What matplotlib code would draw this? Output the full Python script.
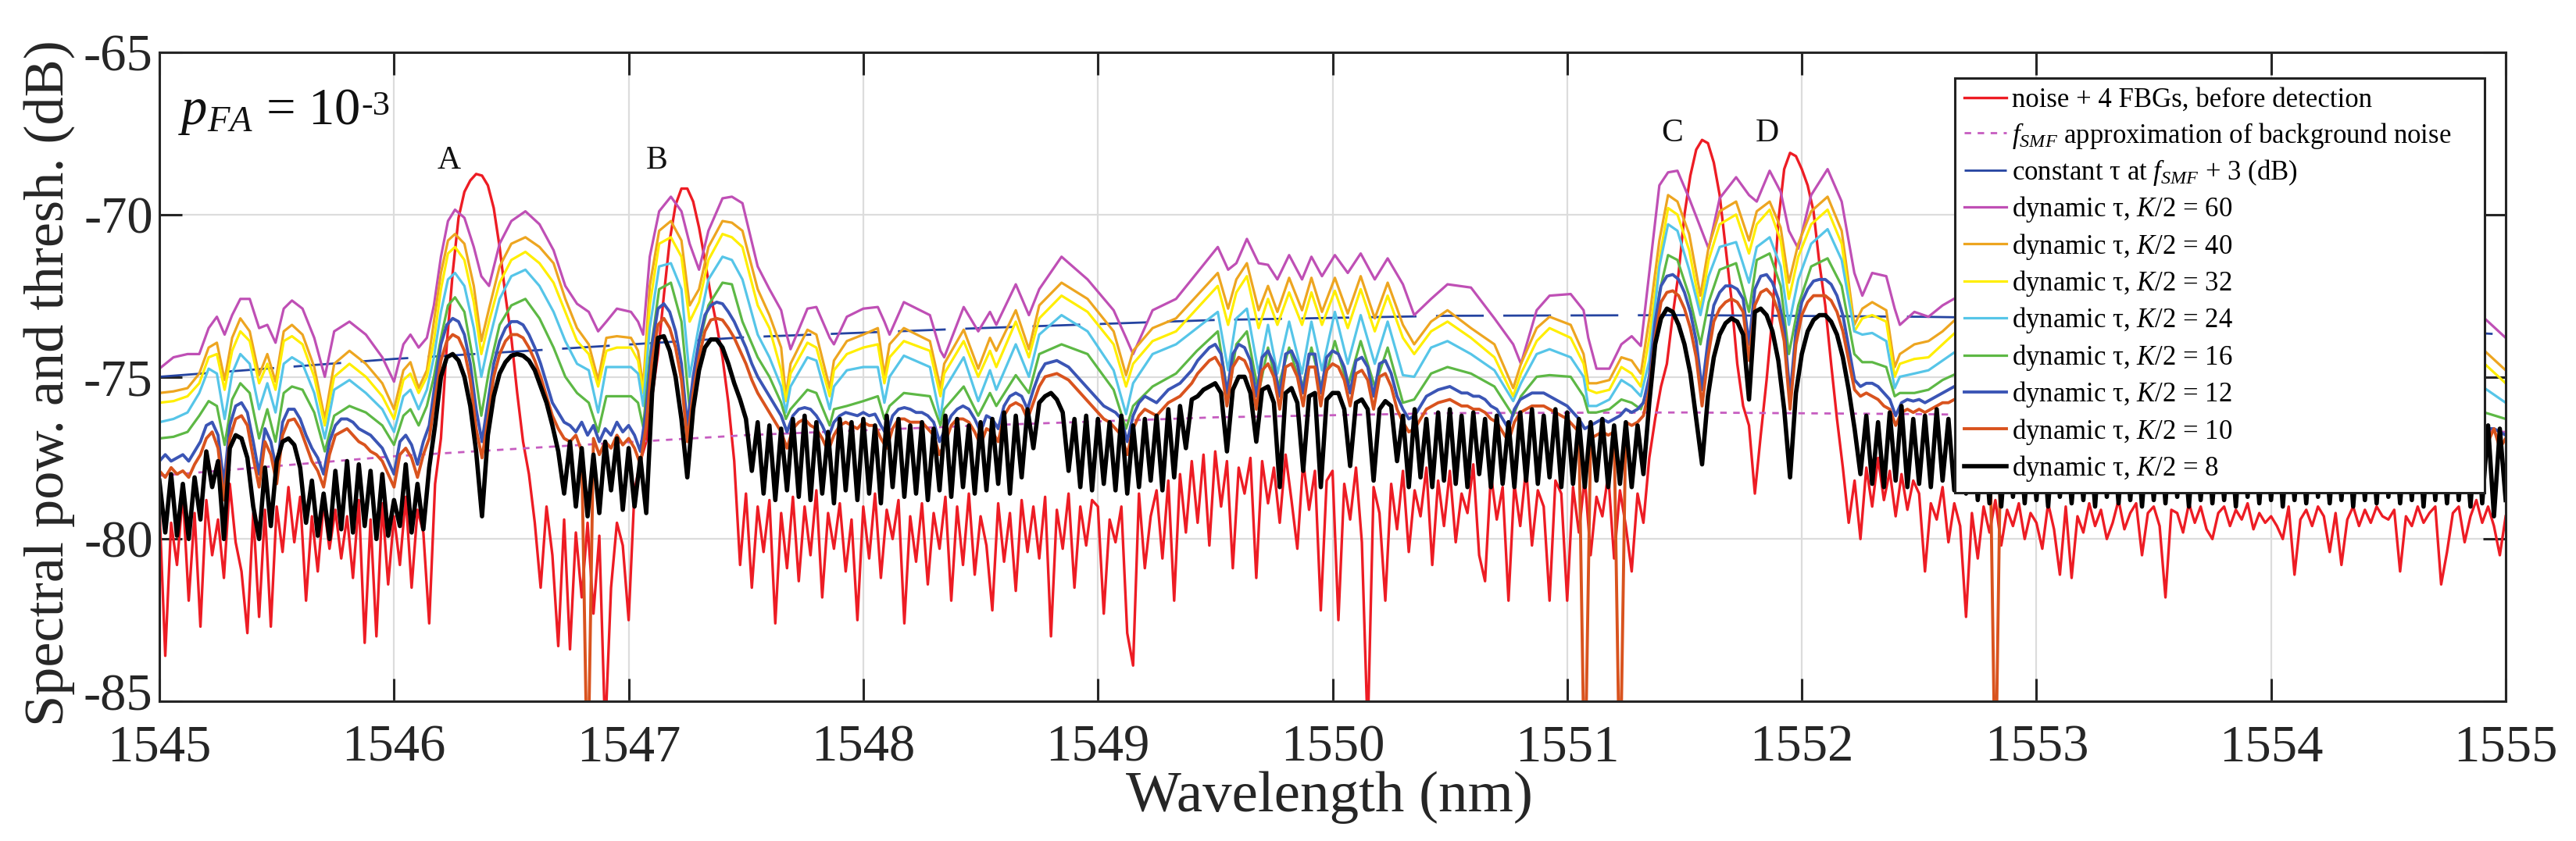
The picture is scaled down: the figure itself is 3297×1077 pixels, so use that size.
import numpy as np
import matplotlib
matplotlib.use("Agg")
import matplotlib.pyplot as plt
import matplotlib.transforms as mtransforms

plt.rcParams['font.family'] = ['Liberation Serif', 'DejaVu Serif']
plt.rcParams['mathtext.fontset'] = 'custom'
plt.rcParams['mathtext.rm'] = 'Liberation Serif'
plt.rcParams['mathtext.it'] = 'Liberation Serif:italic'
plt.rcParams['mathtext.bf'] = 'Liberation Serif:bold'
plt.rcParams['axes.unicode_minus'] = False

# ---------------- data ----------------
WL_START = 1545.0
WL_STEP = 0.025   # sampling of the dense (noisy) traces

noise_fbg = [
 -79.0, -83.6, -79.5, -80.8, -78.6, -81.9, -79.2, -82.7, -78.8, -80.5,
 -79.4, -81.2, -78.3, -80.1, -81.0, -82.9, -79.2, -82.4, -79.1, -82.7,
 -79.0, -80.4, -78.4, -80.1, -78.7, -81.9, -79.3, -81.0, -78.9, -80.3,
 -79.1, -80.6, -79.3, -81.2, -78.8, -83.2, -79.4, -83.0, -78.9, -81.4,
 -79.3, -80.8, -78.7, -81.5, -79.1, -79.8, -82.6, -78.3, -76.9, -74.0,
 -71.8, -70.1, -69.3, -68.95, -68.75, -68.8, -69.1, -69.8, -71.0, -72.5,
 -73.8, -75.5, -77.0, -78.0, -79.5, -81.5, -79.0, -80.5, -83.3, -79.4,
 -83.4, -79.8, -81.8, -79.5, -82.3, -79.9, -86.0, -81.5, -79.5, -80.2,
 -82.5, -78.5, -77.6, -77.0, -75.6, -74.3, -72.5, -70.8, -69.7, -69.2,
 -69.2, -69.6, -70.4, -71.4, -72.5, -73.4, -74.4, -75.8, -77.6, -80.8,
 -78.6, -81.5, -79.0, -80.4, -78.8, -82.6, -79.2, -80.9, -78.7, -81.3,
 -79.0, -80.5, -78.5, -81.8, -79.2, -80.3, -78.9, -81.0, -79.4, -82.5,
 -79.0, -80.6, -78.6, -81.2, -79.1, -80.0, -78.8, -82.6, -79.3, -80.7,
 -78.9, -81.4, -79.2, -80.3, -78.7, -81.9, -79.0, -80.8, -78.6, -81.1,
 -79.3, -80.2, -82.2, -78.9, -80.7, -79.2, -81.6, -78.8, -80.4, -79.0,
 -80.6, -78.7, -83.0, -79.1, -80.3, -78.6, -81.5, -79.0, -80.2, -78.8,
 -79.0, -82.3, -79.4, -80.1, -79.0, -82.9, -83.9, -78.6, -80.9, -79.3,
 -78.5, -80.6, -78.2, -81.9, -78.0, -79.8, -77.6, -79.5, -77.4, -80.2,
 -77.3, -79.0, -77.6, -80.9, -77.8, -78.6, -77.5, -81.2, -77.6, -78.9,
 -77.8, -79.5, -77.4, -78.8, -80.3, -77.6, -79.1, -77.9, -82.2, -78.2,
 -77.9, -82.5, -78.3, -79.4, -77.8, -80.1, -86.0, -78.4, -79.2, -81.9,
 -78.3, -79.7, -77.9, -80.4, -78.5, -79.3, -77.8, -80.8, -78.2, -79.6,
 -77.9, -80.1, -78.6, -79.2, -77.7, -80.5, -81.3, -78.0, -79.4, -78.4,
 -81.9, -78.3, -79.6, -77.8, -80.2, -78.5, -79.0, -81.9, -78.2, -78.6,
 -81.9, -78.4, -79.8, -78.1, -80.5, -78.7, -79.3, -78.0, -80.6, -78.5,
 -79.6, -81.0, -78.6, -79.5, -77.5, -76.3, -75.3, -74.6, -73.1, -71.8,
 -70.0, -68.8, -68.0, -67.7, -67.8, -68.4, -69.4, -71.0, -72.6, -74.6,
 -75.9, -76.5, -78.6, -76.8, -75.1, -73.1, -70.2, -68.6, -68.1, -68.2,
 -68.6, -69.1, -69.9, -71.5, -72.8, -74.6, -76.3, -77.8, -79.5, -78.2,
 -80.0, -77.8, -79.0, -77.5, -78.8, -77.9, -79.3, -78.0, -79.1, -78.2,
 -78.6, -81.0, -78.9, -79.4, -78.4, -80.1, -78.9, -79.6, -82.4, -79.2,
 -80.6, -79.0, -79.8, -78.8, -80.2, -79.1, -79.6, -78.9, -80.0, -79.2,
 -79.5, -80.3, -78.9, -79.7, -81.1, -79.0, -81.2, -79.3, -79.8, -78.9,
 -79.6, -79.1, -80.0, -79.5, -78.8, -79.7, -79.2, -78.9, -80.5, -79.2,
 -79.0, -79.6, -81.8, -79.1, -79.2, -79.8, -78.9, -79.5, -79.0, -79.7,
 -80.0, -79.2, -79.0, -79.6, -79.1, -79.4, -78.9, -79.7, -79.2, -79.5,
 -79.3, -79.6, -80.0, -79.0, -81.1, -79.4, -79.1, -79.6, -79.0, -79.3,
 -80.4, -79.2, -80.8, -79.4, -79.0, -79.6, -79.1, -79.5, -79.0, -79.3,
 -79.4, -79.1, -81.0, -79.3, -79.6, -79.0, -79.5, -79.2, -79.0, -81.4,
 -80.4, -79.2, -79.0, -80.1, -79.3, -78.8, -79.5, -79.0, -79.6, -80.5,
 -79.3]

thr_k8 = [
 -78.2, -79.8, -78.0, -79.9, -78.3, -80.0, -78.1, -79.4, -77.3, -78.4,
 -77.6, -80.0, -77.2, -76.8, -76.9, -77.5, -79.0, -80.0, -77.8, -79.6,
 -77.6, -77.0, -76.9, -77.1, -77.8, -79.5, -78.2, -79.9, -78.6, -80.0,
 -77.9, -79.7, -77.6, -79.8, -77.7, -79.6, -77.9, -80.0, -78.0, -79.9,
 -78.8, -79.6, -77.7, -79.8, -78.3, -79.7, -77.8, -76.5, -75.0, -74.4,
 -74.3, -74.5, -75.0, -75.9, -77.3, -79.3, -76.8, -75.6, -74.9, -74.55,
 -74.35, -74.3, -74.35, -74.5, -74.8, -75.3, -75.8, -76.5, -77.3, -78.6,
 -77.0, -79.0, -77.2, -79.3, -77.4, -79.2, -77.0, -78.5, -76.9, -79.1,
 -77.2, -79.0, -77.5, -79.2, -75.5, -73.8, -73.75, -74.2, -75.0, -76.3,
 -78.1, -76.0, -74.8, -74.1, -73.85, -73.85, -74.1, -74.6, -75.2, -75.7,
 -76.3, -77.9, -76.4, -78.6, -76.5, -78.8, -76.6, -78.5, -76.3, -78.7,
 -76.2, -78.8, -76.4, -78.6, -76.7, -78.9, -76.3, -78.5, -76.4, -78.8,
 -76.3, -78.6, -76.5, -78.9, -76.2, -78.4, -76.3, -78.7, -76.5, -78.6,
 -76.4, -78.8, -76.6, -78.5, -76.2, -78.7, -76.3, -78.4, -76.5, -78.6,
 -76.4, -78.5, -76.3, -78.3, -76.1, -78.6, -76.2, -78.1, -76.0, -77.2,
 -75.8, -75.6, -75.5, -75.7, -76.1, -77.9, -76.3, -78.4, -76.2, -78.5,
 -76.3, -78.3, -76.4, -78.5, -76.2, -78.6, -76.5, -78.4, -76.3, -78.2,
 -76.2, -78.5, -76.0, -78.1, -75.9, -77.2, -75.7, -75.6, -75.4, -75.3,
 -75.2, -75.5, -77.3, -75.4, -75.0, -75.0, -75.5, -77.0, -75.4, -75.3,
 -75.8, -78.4, -75.5, -75.35, -75.8, -77.9, -75.6, -75.5, -78.4, -75.7,
 -75.5, -75.5, -76.0, -77.75, -75.8, -75.7, -76.0, -78.2, -76.0, -75.75,
 -75.9, -77.6, -76.2, -78.4, -76.0, -78.1, -76.3, -78.4, -76.1, -78.2,
 -76.0, -78.3, -76.2, -78.4, -76.1, -78.0, -76.3, -78.4, -76.2, -78.3,
 -76.4, -78.4, -76.1, -78.2, -76.0, -78.3, -76.2, -78.1, -76.0, -78.4,
 -76.1, -78.3, -76.3, -78.4, -76.4, -78.2, -76.3, -78.4, -76.5, -78.3,
 -76.4, -78.4, -76.5, -78.0, -75.8, -74.0, -73.2, -72.9, -73.0, -73.4,
 -74.0, -74.9, -76.3, -77.7, -75.6, -74.4, -73.7, -73.35, -73.2, -73.3,
 -73.7, -75.7, -73.0, -72.9, -73.1, -73.6, -74.5, -76.0, -78.1, -75.5,
 -74.3, -73.6, -73.25, -73.1, -73.1, -73.3, -73.7, -74.4, -75.4, -76.6,
 -78.0, -76.2, -78.3, -76.4, -78.4, -76.1, -78.2, -75.9, -78.4, -76.3,
 -78.3, -76.2, -78.4, -76.0, -78.2, -76.3, -78.5, -76.4, -78.6, -76.3,
 -78.8, -76.6, -78.9, -76.5, -79.0, -76.7, -78.7, -76.6, -78.9, -76.5,
 -78.8, -76.7, -79.0, -76.5, -78.7, -76.6, -78.9, -76.8, -78.8, -76.6,
 -79.0, -76.5, -78.7, -76.7, -78.9, -76.6, -78.8, -76.5, -79.0, -76.7,
 -78.8, -76.6, -78.9, -76.5, -78.7, -76.8, -79.0, -76.6, -78.8, -76.5,
 -78.9, -76.7, -78.8, -76.6, -79.0, -76.5, -78.7, -76.7, -78.9, -76.6,
 -78.8, -76.5, -79.0, -76.7, -78.8, -76.6, -78.9, -76.5, -78.7, -76.7,
 -78.9, -76.6, -78.8, -76.5, -79.0, -76.7, -78.8, -76.6, -78.9, -76.5,
 -78.7, -76.6, -78.9, -76.7, -78.8, -76.5, -79.0, -76.6, -78.8, -76.7,
 -78.9, -76.5, -78.8, -76.6, -79.0, -76.4, -78.9, -76.5, -79.3, -76.6,
 -78.8]

thr_k10 = [
 -77.9, -78.1, -77.8, -78.0, -77.9, -78.1, -77.7, -77.4, -76.9, -76.7,
 -77.2, -78.8, -76.9, -76.3, -76.2, -76.5, -77.5, -78.4, -77.0, -77.4,
 -78.3, -76.8, -76.35, -76.3, -76.6, -77.1, -77.6, -77.9, -78.4, -77.4,
 -76.8, -76.7, -76.6, -76.8, -77.0, -77.1, -77.3, -77.4, -77.6, -78.0,
 -78.4, -77.4, -77.2, -77.5, -78.1, -77.4, -76.9, -75.7, -74.5, -73.9,
 -73.7, -73.8, -74.2, -75.1, -76.6, -77.5, -76.3, -75.0, -74.3, -73.9,
 -73.7, -73.7, -73.8, -74.1, -74.5, -75.0, -75.6, -76.2, -76.6, -76.9,
 -77.0, -76.8, -77.3, -88.0, -76.9, -77.4, -77.0, -77.2, -76.8, -77.1,
 -76.9, -77.2, -77.7, -76.5, -74.5, -73.4, -73.2, -73.5, -74.1, -75.1,
 -77.0, -75.5, -74.4, -73.6, -73.25, -73.2, -73.25, -73.5, -73.8, -74.2,
 -74.6, -75.1, -75.5, -75.8, -76.1, -76.4, -76.7, -77.2, -76.6, -76.4,
 -76.3, -76.5, -76.6, -76.9, -77.3, -76.8, -76.5, -76.4, -76.5, -76.6,
 -76.4, -76.5, -76.5, -76.9, -77.2, -76.6, -76.3, -76.3, -76.4, -76.4,
 -76.4, -76.6, -76.8, -77.4, -77.0, -76.5, -76.3, -76.3, -76.4, -76.7,
 -77.1, -76.6, -76.7, -77.0, -76.2, -75.9, -75.8, -75.9, -76.3, -75.8,
 -75.3, -75.0, -74.95, -74.9, -75.0, -75.1, -75.3, -75.5, -75.7, -75.9,
 -76.1, -76.3, -76.4, -76.6, -76.8, -77.4, -76.6, -76.2, -76.0, -76.1,
 -76.2, -76.0, -75.8, -75.7, -75.6, -75.4, -75.2, -74.9, -74.7, -74.5,
 -74.4, -74.7, -75.9, -74.7, -74.4, -74.5, -74.9, -76.0, -74.8, -74.6,
 -75.0, -76.0, -74.7, -74.6, -75.0, -75.9, -74.7, -74.7, -75.9, -74.8,
 -74.6, -74.7, -75.1, -75.9, -74.9, -74.8, -75.1, -76.0, -75.0, -74.9,
 -75.3, -76.0, -76.4, -76.7, -76.6, -76.3, -76.0, -75.9, -75.8, -75.75,
 -75.7, -75.8, -75.9, -75.9, -76.0, -76.0, -76.1, -76.3, -76.4, -76.7,
 -77.0, -76.4, -76.1, -76.0, -75.9, -75.9, -75.9, -76.0, -76.1, -76.2,
 -76.3, -76.5, -76.7, -88.0, -76.9, -76.8, -76.7, -76.8, -76.7, -88.0,
 -76.4, -76.5, -76.4, -76.2, -75.4, -73.8, -72.7, -72.4, -72.35, -72.5,
 -72.9, -73.5, -74.4, -75.9, -74.4, -73.3, -72.9, -72.7, -72.6, -72.7,
 -73.0, -74.5, -72.8, -72.4, -72.3, -72.5, -73.0, -73.9, -76.0, -74.0,
 -73.1, -72.7, -72.5, -72.5, -72.5, -72.65, -73.0, -73.6, -74.5, -75.4,
 -75.6, -75.5, -75.6, -75.7, -75.9, -76.0, -76.5, -76.1, -76.0, -76.1,
 -76.0, -76.1, -76.0, -75.9, -75.8, -75.8, -75.7, -75.7, -75.7, -75.8,
 -75.8, -75.9, -75.8, -88.0, -75.9, -75.8, -75.9, -75.8, -75.9, -75.8,
 -75.9, -75.8, -76.0, -75.9, -75.8, -75.9, -76.0, -75.8, -75.9, -75.9,
 -75.9, -75.8, -76.0, -75.9, -75.8, -75.9, -76.0, -75.8, -75.9, -75.9,
 -75.9, -75.8, -76.0, -75.9, -75.8, -75.9, -76.0, -75.8, -75.9, -75.9,
 -75.9, -75.8, -76.0, -75.9, -75.8, -75.9, -76.0, -75.8, -75.9, -75.9,
 -75.9, -75.8, -76.0, -75.9, -75.8, -75.9, -76.0, -75.8, -75.9, -75.9,
 -75.9, -75.8, -76.0, -75.9, -75.8, -75.9, -76.0, -75.8, -75.9, -75.9,
 -75.9, -75.8, -76.0, -75.9, -75.8, -75.9, -76.0, -75.8, -75.9, -76.0,
 -76.2, -76.4, -76.3, -76.6, -76.4, -76.8, -76.5, -77.0, -76.6, -77.2,
 -76.9]

thr_k12 = [
 -77.6, -77.4, -77.6, -77.5, -77.4, -77.6, -77.3, -77.0, -76.5, -76.4,
 -76.8, -78.3, -76.5, -75.9, -75.8, -76.1, -77.0, -78.0, -76.6, -77.0,
 -77.9, -76.4, -76.0, -76.0, -76.3, -76.8, -77.2, -77.5, -78.0, -77.0,
 -76.5, -76.3, -76.3, -76.4, -76.6, -76.7, -76.8, -77.0, -77.2, -77.6,
 -78.0, -77.0, -76.8, -77.1, -77.7, -77.0, -76.5, -75.2, -74.0, -73.4,
 -73.2, -73.3, -73.7, -74.6, -76.0, -77.0, -75.8, -74.6, -73.9, -73.5,
 -73.3, -73.3, -73.4, -73.7, -74.1, -74.6, -75.2, -75.8, -76.1, -76.4,
 -76.5, -76.7, -76.4, -76.8, -76.5, -77.0, -76.6, -76.8, -76.4, -76.7,
 -76.5, -76.8, -77.3, -76.0, -74.0, -72.9, -72.75, -73.0, -73.6, -74.6,
 -76.5, -75.0, -73.9, -73.1, -72.8, -72.7, -72.75, -73.0, -73.3, -73.7,
 -74.1, -74.6, -75.0, -75.3, -75.6, -75.9, -76.2, -76.7, -76.2, -76.0,
 -75.95, -76.0, -76.2, -76.5, -76.9, -76.4, -76.2, -76.1, -76.15, -76.2,
 -76.1, -76.2, -76.15, -76.5, -76.8, -76.2, -76.0, -75.95, -76.0, -76.1,
 -76.1, -76.2, -76.4, -77.0, -76.6, -76.2, -76.0, -75.9, -76.0, -76.3,
 -76.7, -76.2, -76.3, -76.6, -75.9, -75.6, -75.5, -75.6, -76.0, -75.4,
 -74.9, -74.6, -74.55, -74.5, -74.6, -74.7, -74.9, -75.1, -75.3, -75.5,
 -75.7, -75.9, -76.0, -76.1, -76.3, -77.0, -76.2, -75.8, -75.6, -75.7,
 -75.8, -75.6, -75.4, -75.3, -75.2, -75.0, -74.8, -74.5, -74.3, -74.1,
 -74.0, -74.3, -75.5, -74.3, -74.0, -74.1, -74.5, -75.6, -74.4, -74.2,
 -74.6, -75.6, -74.3, -74.2, -74.6, -75.5, -74.3, -74.3, -75.5, -74.4,
 -74.2, -74.3, -74.7, -75.5, -74.5, -74.4, -74.7, -75.6, -74.6, -74.5,
 -74.9, -75.6, -76.0, -76.3, -76.2, -75.9, -75.6, -75.5, -75.4, -75.35,
 -75.3, -75.4, -75.5, -75.5, -75.6, -75.6, -75.7, -75.9, -76.0, -76.3,
 -76.6, -76.0, -75.7, -75.6, -75.5, -75.5, -75.5, -75.6, -75.7, -75.8,
 -75.9, -76.1, -76.3, -76.6, -76.5, -76.4, -76.3, -76.4, -76.3, -76.2,
 -76.0, -76.1, -76.0, -75.8, -75.0, -73.3, -72.2, -71.9, -71.85, -72.0,
 -72.4, -73.0, -73.9, -75.4, -73.9, -72.8, -72.4, -72.2, -72.2, -72.3,
 -72.6, -74.0, -72.3, -71.9, -71.85, -72.1, -72.6, -73.5, -75.6, -73.6,
 -72.7, -72.3, -72.05, -72.0, -72.0, -72.15, -72.5, -73.1, -74.1, -75.1,
 -75.3, -75.2, -75.2, -75.3, -75.5, -75.7, -76.2, -75.8, -75.7, -75.75,
 -75.7, -75.8, -75.7, -75.6, -75.5, -75.4, -75.3, -75.3, -75.3, -75.4,
 -75.4, -75.5, -75.4, -75.6, -75.5, -75.4, -75.5, -75.6, -75.4, -75.5,
 -75.4, -75.5, -75.4, -75.6, -75.5, -75.4, -75.5, -75.6, -75.4, -75.5,
 -75.4, -75.5, -75.4, -75.6, -75.5, -75.4, -75.5, -75.6, -75.4, -75.5,
 -75.4, -75.5, -75.4, -75.6, -75.5, -75.4, -75.5, -75.6, -75.4, -75.5,
 -75.4, -75.5, -75.4, -75.6, -75.5, -75.4, -75.5, -75.6, -75.4, -75.5,
 -75.4, -75.5, -75.4, -75.6, -75.5, -75.4, -75.5, -75.6, -75.4, -75.5,
 -75.4, -75.5, -75.4, -75.6, -75.5, -75.4, -75.5, -75.6, -75.4, -75.5,
 -75.4, -75.5, -75.4, -75.6, -75.5, -75.4, -75.5, -75.6, -75.7, -75.8,
 -76.0, -76.1, -76.2, -76.2, -76.3, -76.4, -76.5, -76.6, -76.6, -76.7,
 -76.8]

# key wavelengths (peaks / nulls) for the smoother thresholds
wl_key = [
 1545.000, 1545.060, 1545.120, 1545.170, 1545.210, 1545.245, 1545.278, 1545.310, 1545.345, 1545.385,
 1545.425, 1545.460, 1545.495, 1545.530, 1545.565, 1545.610, 1545.660, 1545.705, 1545.745, 1545.810,
 1545.880, 1545.950, 1546.000, 1546.040, 1546.070, 1546.105, 1546.140, 1546.170, 1546.200, 1546.230,
 1546.260, 1546.300, 1546.340, 1546.372, 1546.405, 1546.450, 1546.500, 1546.560, 1546.620, 1546.680,
 1546.730, 1546.780, 1546.830, 1546.870, 1546.905, 1546.950, 1547.010, 1547.040, 1547.062, 1547.090,
 1547.130, 1547.180, 1547.225, 1547.260, 1547.300, 1547.340, 1547.400, 1547.440, 1547.485, 1547.550,
 1547.600, 1547.650, 1547.670, 1547.690, 1547.762, 1547.800, 1547.857, 1547.875, 1547.930, 1548.000,
 1548.062, 1548.090, 1548.112, 1548.173, 1548.284, 1548.329, 1548.345, 1548.428, 1548.490, 1548.540,
 1548.567, 1548.650, 1548.706, 1548.750, 1548.845, 1548.956, 1549.067, 1549.120, 1549.150, 1549.233,
 1549.333, 1549.422, 1549.511, 1549.555, 1549.590, 1549.635, 1549.685, 1549.725, 1549.765, 1549.815,
 1549.870, 1549.910, 1549.955, 1550.010, 1550.065, 1550.120, 1550.180, 1550.235, 1550.300, 1550.348,
 1550.420, 1550.490, 1550.590, 1550.690, 1550.770, 1550.803, 1550.870, 1550.925, 1551.015, 1551.070,
 1551.090, 1551.125, 1551.180, 1551.231, 1551.275, 1551.314, 1551.350, 1551.393, 1551.430, 1551.470,
 1551.520, 1551.568, 1551.603, 1551.650, 1551.720, 1551.775, 1551.808, 1551.863, 1551.910, 1551.945,
 1551.985, 1552.040, 1552.110, 1552.170, 1552.224, 1552.258, 1552.300, 1552.360, 1552.396, 1552.418,
 1552.480, 1552.540, 1552.600, 1552.660, 1553.200, 1553.800, 1554.400, 1554.910, 1555.000]

thr_k60 = [
 -74.75, -74.4, -74.3, -74.3, -73.5, -73.15, -73.7, -73.1, -72.6, -72.6,
 -73.5, -73.4, -73.95, -72.9, -72.65, -72.9, -73.8, -75.0, -73.6, -73.3,
 -73.7, -74.4, -75.15, -74.0, -73.7, -74.1, -73.8, -72.8, -71.3, -70.2,
 -69.85, -70.1, -71.0, -71.9, -72.2, -70.9, -70.2, -69.9, -70.3, -71.1,
 -72.2, -72.75, -73.0, -73.6, -73.3, -72.9, -73.0, -73.3, -73.7, -71.3,
 -69.9, -69.45, -69.9, -70.9, -71.7, -70.5, -69.5, -69.45, -69.65, -71.6,
 -72.3, -72.95, -73.6, -74.15, -72.9, -72.85, -73.8, -74.0, -73.15, -72.9,
 -72.85, -73.3, -73.7, -72.7, -73.1, -74.2, -74.4, -72.85, -73.6, -73.0,
 -73.4, -72.15, -73.1, -72.3, -71.3, -72.0, -72.95, -73.8, -74.3, -72.95,
 -72.6, -71.8, -71.0, -71.7, -71.5, -70.75, -71.5, -71.55, -72.0, -71.25,
 -72.0, -71.3, -71.9, -71.25, -71.8, -71.2, -72.0, -71.35, -72.15, -73.1,
 -72.6, -72.15, -72.25, -73.2, -74.0, -74.6, -72.95, -72.5, -72.45, -72.95,
 -73.8, -74.75, -74.75, -74.0, -73.75, -74.05, -71.8, -69.1, -68.7, -68.65,
 -69.5, -70.4, -71.05, -69.5, -68.85, -69.4, -69.6, -68.65, -69.3, -70.5,
 -71.05, -69.4, -68.6, -69.6, -71.8, -72.5, -71.8, -71.9, -72.9, -73.4,
 -73.0, -73.15, -72.8, -72.55, -72.5, -72.6, -72.8, -73.2, -73.8]

thr_k40 = [
 -75.5, -75.45, -75.35, -74.9, -74.1, -73.95, -75.1, -73.8, -73.2, -73.6,
 -74.95, -74.3, -75.15, -73.6, -73.4, -73.7, -74.7, -76.3, -74.6, -74.2,
 -74.6, -75.2, -76.0, -74.8, -74.55, -75.35, -74.8, -73.3, -71.8, -70.8,
 -70.6, -70.9, -72.2, -73.9, -72.9, -71.6, -70.9, -70.7, -71.0, -71.5,
 -72.6, -73.5, -74.0, -75.1, -73.8, -73.75, -73.8, -74.2, -75.3, -72.2,
 -70.5, -70.2, -70.8, -72.8, -72.3, -71.0, -70.2, -70.25, -70.5, -72.3,
 -73.1, -74.1, -75.6, -74.6, -73.55, -73.7, -75.35, -74.5, -73.9, -73.7,
 -73.5, -74.95, -74.0, -73.5, -73.9, -75.35, -74.6, -73.55, -74.75, -73.8,
 -74.2, -72.95, -74.15, -72.8, -72.1, -72.6, -73.6, -74.95, -74.2, -73.5,
 -73.2, -72.5, -71.8, -72.9, -72.0, -71.5, -72.95, -72.2, -73.0, -71.95,
 -72.95, -71.95, -73.0, -71.95, -73.05, -71.9, -73.2, -72.1, -73.4, -74.0,
 -73.3, -72.95, -73.5, -74.0, -75.35, -74.6, -73.5, -73.15, -73.4, -74.3,
 -75.2, -75.2, -75.1, -74.4, -74.5, -74.9, -73.2, -70.8, -69.4, -69.6,
 -70.6, -72.5, -71.0, -69.9, -69.6, -70.8, -69.9, -69.6, -70.4, -72.1,
 -70.9, -69.9, -69.45, -70.5, -73.4, -72.9, -72.7, -72.95, -74.7, -74.3,
 -74.0, -73.9, -73.6, -73.2, -73.3, -73.4, -73.6, -74.2, -74.8]

thr_k32 = [
 -75.8, -75.75, -75.6, -75.2, -74.4, -74.3, -75.4, -74.2, -73.6, -73.9,
 -75.2, -74.6, -75.4, -73.9, -73.75, -74.0, -75.0, -76.5, -75.0, -74.6,
 -75.0, -75.6, -76.3, -75.1, -74.9, -75.5, -75.0, -73.9, -72.3, -71.2,
 -71.0, -71.4, -72.7, -74.3, -73.3, -72.1, -71.4, -71.15, -71.5, -72.1,
 -73.0, -73.9, -74.3, -75.3, -74.2, -74.1, -74.1, -74.5, -75.5, -72.8,
 -70.9, -70.7, -71.3, -73.3, -72.7, -71.4, -70.6, -70.7, -71.0, -72.8,
 -73.5, -74.8, -75.75, -74.9, -73.95, -74.1, -75.6, -74.8, -74.3, -74.1,
 -74.0, -75.2, -74.4, -73.9, -74.2, -75.6, -74.9, -73.9, -75.0, -74.2,
 -74.7, -73.3, -74.4, -73.2, -72.5, -73.0, -74.0, -75.3, -74.6, -73.9,
 -73.6, -72.9, -72.2, -73.4, -72.4, -71.9, -73.5, -72.6, -73.4, -72.4,
 -73.4, -72.4, -73.4, -72.35, -73.5, -72.3, -73.6, -72.5, -73.8, -74.3,
 -73.6, -73.3, -73.8, -74.4, -75.6, -74.9, -73.9, -73.5, -73.8, -74.6,
 -75.4, -75.5, -75.4, -74.7, -74.9, -75.3, -73.8, -71.4, -69.8, -70.0,
 -71.1, -72.9, -71.4, -70.3, -70.0, -71.2, -70.3, -69.85, -70.8, -72.6,
 -71.3, -70.3, -69.85, -70.9, -73.6, -73.2, -73.1, -73.3, -75.0, -74.6,
 -74.45, -74.4, -74.0, -73.6, -73.6, -73.8, -74.0, -74.6, -75.2]

thr_k24 = [
 -76.4, -76.3, -76.1, -75.5, -74.75, -74.9, -76.3, -74.9, -74.3, -74.6,
 -76.0, -75.2, -76.1, -74.6, -74.4, -74.6, -75.5, -76.9, -75.4, -75.1,
 -75.5, -76.0, -76.7, -75.6, -75.4, -76.0, -75.4, -74.4, -73.0, -72.0,
 -71.8, -72.2, -73.5, -75.0, -73.9, -72.6, -71.9, -71.7, -72.2, -73.0,
 -73.9, -74.6, -74.8, -76.1, -74.7, -74.7, -74.7, -74.9, -75.9, -73.5,
 -71.6, -71.5, -72.3, -75.0, -73.4, -72.0, -71.3, -71.4, -72.0, -73.7,
 -74.4, -75.3, -76.1, -75.3, -74.4, -74.5, -76.0, -75.3, -74.8, -74.7,
 -74.7, -75.8, -75.0, -74.35, -74.7, -76.3, -75.4, -74.4, -75.75, -74.8,
 -75.4, -74.0, -75.0, -73.7, -73.1, -73.6, -74.8, -76.15, -75.2, -74.3,
 -74.0, -73.5, -73.0, -74.8, -73.2, -72.9, -74.9, -73.4, -74.9, -73.3,
 -74.9, -73.3, -74.8, -73.0, -74.6, -73.1, -74.6, -73.3, -74.95, -75.0,
 -74.1, -73.9, -74.3, -74.8, -75.75, -75.2, -74.3, -74.15, -74.4, -75.0,
 -75.9, -75.9, -75.7, -75.1, -75.3, -75.6, -74.5, -71.6, -70.3, -70.5,
 -71.7, -73.1, -71.9, -71.0, -70.85, -72.1, -71.0, -70.7, -71.6, -73.4,
 -72.0, -70.9, -70.45, -71.4, -73.6, -73.7, -73.65, -73.9, -75.35, -75.0,
 -74.9, -74.8, -74.5, -74.2, -74.0, -74.3, -74.6, -75.35, -75.8]

thr_k16 = [
 -76.9, -76.85, -76.7, -76.2, -75.75, -75.9, -77.1, -75.7, -75.2, -75.5,
 -76.9, -76.0, -77.0, -75.5, -75.3, -75.4, -76.1, -77.3, -76.2, -75.9,
 -76.1, -76.5, -77.1, -76.2, -76.0, -76.5, -75.9, -75.0, -73.8, -72.8,
 -72.55, -73.0, -74.6, -76.2, -74.8, -73.4, -72.8, -72.6, -73.2, -74.1,
 -75.0, -75.5, -75.8, -76.7, -75.6, -75.6, -75.6, -75.8, -76.55, -74.4,
 -72.3, -72.1, -73.3, -76.0, -74.0, -72.8, -72.1, -72.15, -73.3, -74.4,
 -75.0, -75.8, -76.3, -76.0, -75.4, -75.5, -76.5, -76.0, -75.9, -75.75,
 -75.6, -76.3, -75.9, -75.5, -75.6, -76.5, -76.0, -75.3, -76.2, -75.5,
 -75.9, -74.95, -75.5, -74.3, -74.0, -74.3, -75.4, -76.6, -75.9, -75.3,
 -74.9, -74.2, -73.6, -75.6, -74.0, -73.6, -75.5, -74.1, -75.4, -74.1,
 -75.4, -74.1, -75.4, -73.9, -75.3, -73.9, -75.3, -74.1, -75.8, -75.7,
 -74.9, -74.7, -74.9, -75.3, -76.2, -75.6, -75.0, -74.95, -75.0, -75.6,
 -76.1, -76.1, -76.0, -75.7, -75.8, -76.0, -75.2, -72.4, -71.25, -71.4,
 -72.5, -74.0, -72.7, -71.7, -71.5, -73.0, -71.4, -71.2, -72.2, -74.3,
 -72.8, -71.6, -71.35, -72.2, -74.3, -74.55, -74.55, -74.7, -75.6, -75.5,
 -75.5, -75.4, -75.1, -74.9, -74.8, -75.0, -75.4, -76.1, -76.3]

# background-noise approximation and constant threshold
wl_bg = [1545.0, 1546.0, 1546.66, 1547.5, 1548.5, 1549.5, 1550.5, 1551.5, 1552.5, 1553.5, 1554.5, 1555.0]
f_smf = [-78.05, -77.45, -77.16, -76.8, -76.5, -76.25, -76.12, -76.1, -76.15, -76.25, -76.5, -76.7]
tau_const = [-75.0, -74.45, -74.16, -73.78, -73.5, -73.25, -73.12, -73.1, -73.15, -73.25, -73.5, -73.7]

peak_names = ['A', 'B', 'C', 'D']
peak_name_wl = [1546.235, 1547.121, 1551.447, 1551.852]
peak_name_db = [-68.33, -68.33, -67.49, -67.49]

x_ticks = [1545, 1546, 1547, 1548, 1549, 1550, 1551, 1552, 1553, 1554, 1555]
y_ticks = [-85, -80, -75, -70, -65]

legend_labels = [
    'noise + 4 FBGs, before detection',
    r'$f_{SMF}$ approximation of background noise',
    r'constant τ at $f_{SMF}$ + 3 (dB)',
    r'dynamic τ, $K/2$ = 60',
    r'dynamic τ, $K/2$ = 40',
    r'dynamic τ, $K/2$ = 32',
    r'dynamic τ, $K/2$ = 24',
    r'dynamic τ, $K/2$ = 16',
    r'dynamic τ, $K/2$ = 12',
    r'dynamic τ, $K/2$ = 10',
    r'dynamic τ, $K/2$ = 8',
]

# ---------------- figure ----------------
fig = plt.figure(figsize=(32.98, 10.77), dpi=100)
ax = fig.add_axes([204/3298, 1 - 898/1077, 3003/3298, 831/1077])

def dense_x(vals):
    return WL_START + WL_STEP * np.arange(len(vals))

handles = []
h, = ax.plot(dense_x(noise_fbg), noise_fbg, color='#ED1C24', lw=2.4, zorder=2)
handles.append(h)
h, = ax.plot(wl_bg, f_smf, color='#C65CC0', lw=2.0, ls=(0, (3, 3)), zorder=3)
handles.append(h)
h, = ax.plot(wl_bg, tau_const, color='#2443A0', lw=2.0, ls=(0, (22, 9)), zorder=3)
handles.append(h)

smooth = [(thr_k60, '#BF4FB5'), (thr_k40, '#EDA520'), (thr_k32, '#FFEE00'),
          (thr_k24, '#56C5E8'), (thr_k16, '#5DB845')]
for vals, col in smooth:
    h, = ax.plot(wl_key, vals, color=col, lw=2.3, zorder=4)
    handles.append(h)

dense = [(thr_k12, '#3B55B5', 2.8), (thr_k10, '#D9531E', 2.8), (thr_k8, '#000000', 4.0)]
for vals, col, lw in dense:
    h, = ax.plot(dense_x(vals), vals, color=col, lw=lw, zorder=5)
    handles.append(h)

ax.set_xlim(1545, 1555)
ax.set_ylim(-85, -65)
ax.set_xticks(x_ticks)
ax.set_yticks(y_ticks)
ax.set_xticklabels([str(t) for t in x_ticks])
ax.set_yticklabels([str(t) for t in y_ticks])
ax.grid(True, color='#dcdcdc', lw=1.6, zorder=0)
ax.set_axisbelow(True)
for s in ax.spines.values():
    s.set_color('#262626')
    s.set_linewidth(2.2)
    s.set_zorder(10)
ax.tick_params(direction='in', top=True, right=True, length=21, width=2.2,
               colors='#262626', labelsize=48, labelcolor='#262626')
ax.tick_params(axis='x', pad=21)
ax.tick_params(axis='y', pad=6)

# lift the lowest y tick label slightly (as in the original layout)
lift = mtransforms.ScaledTranslation(0, 9 / 72.0, fig.dpi_scale_trans)
lowest = ax.yaxis.get_major_ticks()[0].label1
lowest.set_transform(lowest.get_transform() + lift)

ax.set_xlabel('Wavelength (nm)', fontsize=54, color='#262626')
ax.xaxis.set_label_coords(0.4985, -0.108)
ax.set_ylabel('Spectral pow. and thresh. (dB)', fontsize=52, color='#262626')
ax.yaxis.set_label_coords(-0.036, 0.49)

t_pfa = ax.text(1545.08, -67.22, r'$p_{FA}$ = 10', fontsize=48, ha='left',
                va='baseline', color='#111111', zorder=12)
ax.annotate('-3', xy=(1.0, 1.0), xycoords=t_pfa, xytext=(1, -3),
            textcoords='offset points', fontsize=32, ha='left', va='top',
            color='#111111', zorder=12)
for name, xw, yd in zip(peak_names, peak_name_wl, peak_name_db):
    ax.text(xw, yd, name, fontsize=30, ha='center', va='center', color='#111111', zorder=12)

leg = ax.legend(handles, legend_labels, loc='upper left',
                bbox_to_anchor=(0.7652, 0.3237, 0.2258, 0.6366), mode='expand',
                fontsize=25, frameon=True, fancybox=False, framealpha=1,
                edgecolor='#222222', borderpad=0.35, labelspacing=0.27,
                handlelength=1.55, handletextpad=0.2, borderaxespad=0)
leg.get_frame().set_linewidth(2.2)
leg.set_zorder(20)

fig.savefig('out.png', dpi=100)
